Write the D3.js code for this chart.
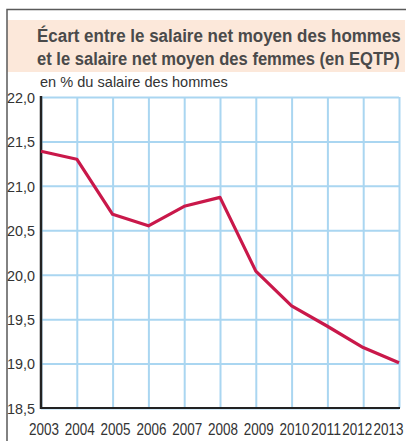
<!DOCTYPE html>
<html>
<head>
<meta charset="utf-8">
<script src="https://cdn.jsdelivr.net/npm/d3@7"></script>
<style>
  body { margin: 0; background: #fff; }
  svg { display: block; font-family: "Liberation Sans", Arial, sans-serif; }
</style>
</head>
<body>
<svg id="chart"></svg>
<script>
// data
var years = [2003, 2004, 2005, 2006, 2007, 2008, 2009, 2010, 2011, 2012, 2013];
var ecart = [21.39, 21.30, 20.68, 20.55, 20.77, 20.87, 20.04, 19.65, 19.42, 19.18, 19.01];
var yTicks = [18.5, 19.0, 19.5, 20.0, 20.5, 21.0, 21.5, 22.0];
var titleLines = ["Écart entre le salaire net moyen des hommes", "et le salaire net moyen des femmes (en EQTP)"];
var subtitle = "en % du salaire des hommes";

var width = 407, height = 441;
var plotL = 41, plotR = 399, plotT = 97, plotB = 408;

var svg = d3.select('#chart')
    .attr('width', width)
    .attr('height', height);

// squeeze a text horizontally to a given width (condensed look)
function squeeze(sel, w, px, py) {
    sel.each(function (d, i) {
        var t = d3.select(this);
        var nat = this.getComputedTextLength();
        var k = (typeof w === 'function' ? w(d, i) : w) / nat;
        var tx = typeof px === 'function' ? px(d, i) : px;
        var ty = typeof py === 'function' ? py(d, i) : py;
        t.attr('x', 0).attr('y', 0).attr('dy', null)
            .attr('transform', 'translate(' + tx + ',' + ty + ') scale(' + k + ',1)');
    });
}

// frame and title band
svg.append('rect')
    .attr('x', 7).attr('y', 20)
    .attr('width', 398).attr('height', 52)
    .attr('fill', '#fce8da');
svg.append('path')
    .attr('d', 'M7,' + height + 'V9.5H406')
    .attr('fill', 'none')
    .attr('stroke', '#5a5a5a')
    .attr('stroke-width', 1.5);

svg.selectAll('text.title')
    .data(titleLines)
    .enter().append('text')
    .attr('class', 'title')
    .style('font-size', '19px')
    .style('font-weight', 'bold')
    .style('fill', '#4a4a4a')
    .text(function (d) { return d; })
    .call(squeeze, function (d, i) { return i === 0 ? 364 : 363; }, 37,
        function (d, i) { return 41.5 + i * 23.5; });

svg.append('text')
    .style('font-size', '14px')
    .style('fill', '#333')
    .text(subtitle)
    .call(squeeze, 188, 40, 87);

var x = d3.scalePoint()
    .domain(years)
    .range([plotL, plotR]);

var y = d3.scaleLinear()
    .domain([18.5, 22])
    .range([plotB, plotT]);

var fmt = function (d) { return d3.format('.1f')(d).replace('.', ','); };

// y grid + labels
var gy = svg.append('g')
    .attr('transform', 'translate(' + plotL + ',0)')
    .call(d3.axisLeft(y).tickValues(yTicks).tickFormat(fmt)
        .tickSize(-(plotR - plotL)).tickPadding(6));
gy.select('.domain').remove();
gy.selectAll('line').attr('stroke', '#aad6f1').attr('stroke-width', 2);
gy.selectAll('text')
    .style('font-size', '15px')
    .style('fill', '#333')
    .call(squeeze, 28, -6, 5.3);

// x grid + labels
var gx = svg.append('g')
    .attr('transform', 'translate(0,' + plotB + ')')
    .call(d3.axisBottom(x).tickSize(-(plotB - plotT)).tickPadding(0));
gx.select('.domain').remove();
gx.selectAll('line').attr('stroke', '#aad6f1').attr('stroke-width', 2);

// labels run out of room at the right, push them left
var lw = 30, limit = 403;
var xs = years.map(function (d) { return x(d) + 2.5; });
for (var i = xs.length - 1; i >= 0; i--) {
    if (xs[i] + lw / 2 > limit) xs[i] = limit - lw / 2;
    limit = xs[i] - lw / 2 - 1.2;
}
gx.selectAll('.tick text')
    .style('font-size', '16px')
    .style('fill', '#333')
    .call(squeeze, lw, function (d, i) { return xs[i] - x(d); }, 27);

// axis lines
svg.append('line')
    .attr('x1', plotL).attr('x2', plotL)
    .attr('y1', plotT - 1).attr('y2', plotB + 1)
    .attr('stroke', '#222').attr('stroke-width', 2.5);
svg.append('line')
    .attr('x1', plotL).attr('x2', plotR + 1)
    .attr('y1', plotB).attr('y2', plotB)
    .attr('stroke', '#222').attr('stroke-width', 2);

// the series
var line = d3.line()
    .x(function (d, i) { return x(years[i]); })
    .y(function (d) { return y(d); });

svg.append('path')
    .datum(ecart)
    .attr('d', line)
    .attr('fill', 'none')
    .attr('stroke', '#c9184a')
    .attr('stroke-width', 3.2)
    .attr('stroke-linejoin', 'round');
</script>
</body>
</html>
